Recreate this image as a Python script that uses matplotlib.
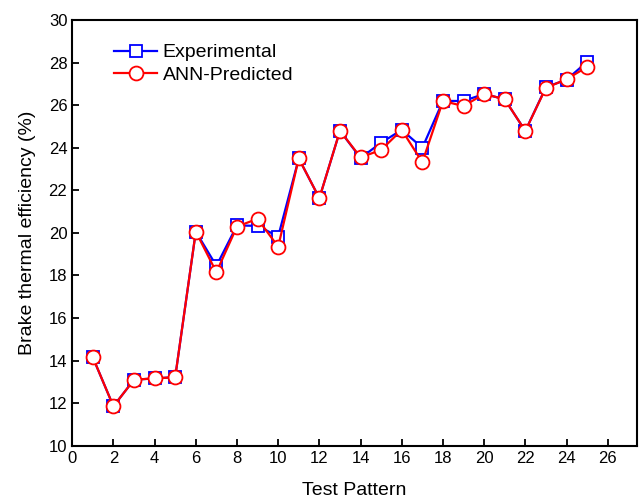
import numpy as np
import matplotlib.pyplot as plt

plt.rcParams['font.family'] = ['Liberation Sans', 'DejaVu Sans']

# test patterns 1..25
pattern = list(range(1, 26))
experimental = [14.15, 11.85, 13.10, 13.16, 13.22, 20.06, 18.45, 20.35, 20.33, 19.83,
                23.50, 21.63, 24.80, 23.52, 24.24, 24.84, 24.00, 26.20, 26.20, 26.53,
                26.28, 24.79, 26.85, 27.20, 28.04]
predicted = [14.15, 11.85, 13.10, 13.16, 13.22, 20.06, 18.15, 20.30, 20.66, 19.35,
             23.50, 21.63, 24.80, 23.55, 23.90, 24.84, 23.32, 26.20, 25.96, 26.53,
             26.28, 24.79, 26.82, 27.22, 27.80]

fig = plt.figure(figsize=(6.42, 5.03), dpi=100)
ax = fig.add_axes([0.1125, 0.114, 0.879, 0.846])

ax.plot(pattern, experimental, color='blue', lw=1.6, marker='s', ms=8.5,
        mfc='white', mec='blue', mew=1.3, label='Experimental')
ax.plot(pattern, predicted, color='red', lw=1.6, marker='o', ms=10,
        mfc='white', mec='red', mew=1.3, label='ANN-Predicted')

ax.set_xlim(0, 27.4)
ax.set_ylim(10, 30)
ax.set_xticks(np.arange(0, 27, 2))
ax.set_yticks(np.arange(10, 31, 2))
ax.tick_params(direction='in', length=5, width=1.3, labelsize=12,
               top=False, right=False)
for s in ax.spines.values():
    s.set_linewidth(1.5)

ax.set_xlabel('Test Pattern', fontsize=14, labelpad=12)
ax.set_ylabel('Brake thermal efficiency (%)', fontsize=14, labelpad=9)

ax.legend(loc='upper left', frameon=False, fontsize=14, handlelength=2.2,
          handletextpad=0.3, borderaxespad=0.6, labelspacing=0.25,
          bbox_to_anchor=(0.04, 0.99))

fig.savefig('out.png', dpi=100)
